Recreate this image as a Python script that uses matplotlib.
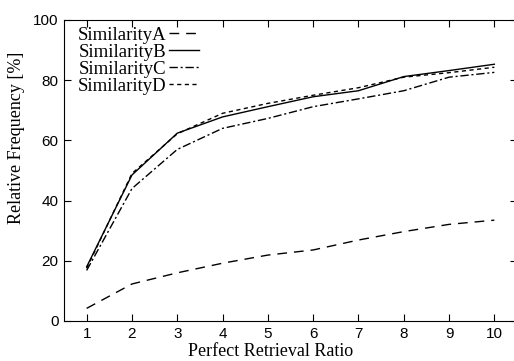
import matplotlib
matplotlib.use("Agg")
import matplotlib.pyplot as plt

ratio = [1, 2, 3, 4, 5, 6, 7, 8, 9, 10]
sim_a = [4.2, 12.3, 16.0, 19.2, 21.9, 23.6, 26.9, 29.7, 32.1, 33.5]
sim_b = [18.0, 48.5, 62.4, 67.8, 71.2, 74.5, 76.5, 81.2, 83.2, 85.3]
sim_c = [16.8, 44.0, 57.0, 64.0, 67.3, 71.2, 73.8, 76.5, 81.0, 82.6]
sim_d = [17.5, 49.0, 62.2, 69.0, 72.3, 75.0, 77.5, 81.0, 82.5, 84.3]
labels = ["SimilarityA", "SimilarityB", "SimilarityC", "SimilarityD"]

serif = "Liberation Serif"
sans = "Liberation Sans"

fig = plt.figure(figsize=(5.14, 3.61), dpi=100)
ax = fig.add_axes([64 / 514, 40 / 361, 453 / 514, 301 / 361])

ax.plot(ratio, sim_a, color="black", lw=1.0, dashes=(7, 5), label=labels[0])
ax.plot(ratio, sim_b, color="black", lw=1.0, ls="-", label=labels[1])
ax.plot(ratio, sim_c, color="black", lw=1.0, dashes=(6, 2, 1.5, 2), label=labels[2])
ax.plot(ratio, sim_d, color="black", lw=1.0, dashes=(3, 2.5), label=labels[3])

ax.set_xlim(0.5, 10.5)
ax.set_ylim(0, 100)
ax.set_xticks(ratio)
ax.set_yticks([0, 20, 40, 60, 80, 100])
ax.tick_params(direction="in", length=5, width=0.8, top=True, right=True,
               labelsize=11, pad=4)
for lab in ax.get_xticklabels() + ax.get_yticklabels():
    lab.set_fontfamily(sans)

ax.set_xlabel("Perfect Retrieval Ratio", fontfamily=serif, fontsize=13)
ax.set_ylabel("Relative Frequency [%]", fontfamily=serif, fontsize=13)
ax.xaxis.set_label_coords(0.455, -0.072)
ax.yaxis.set_label_coords(-0.085, 0.61)

leg = ax.legend(loc="upper left", frameon=False, markerfirst=False,
                prop={"family": serif, "size": 13.5}, handlelength=1.6,
                handletextpad=0.15, labelspacing=0.0, borderaxespad=0.0,
                borderpad=0.35, bbox_to_anchor=(0.015, 1.0))

fig.savefig("out.png", dpi=100)
